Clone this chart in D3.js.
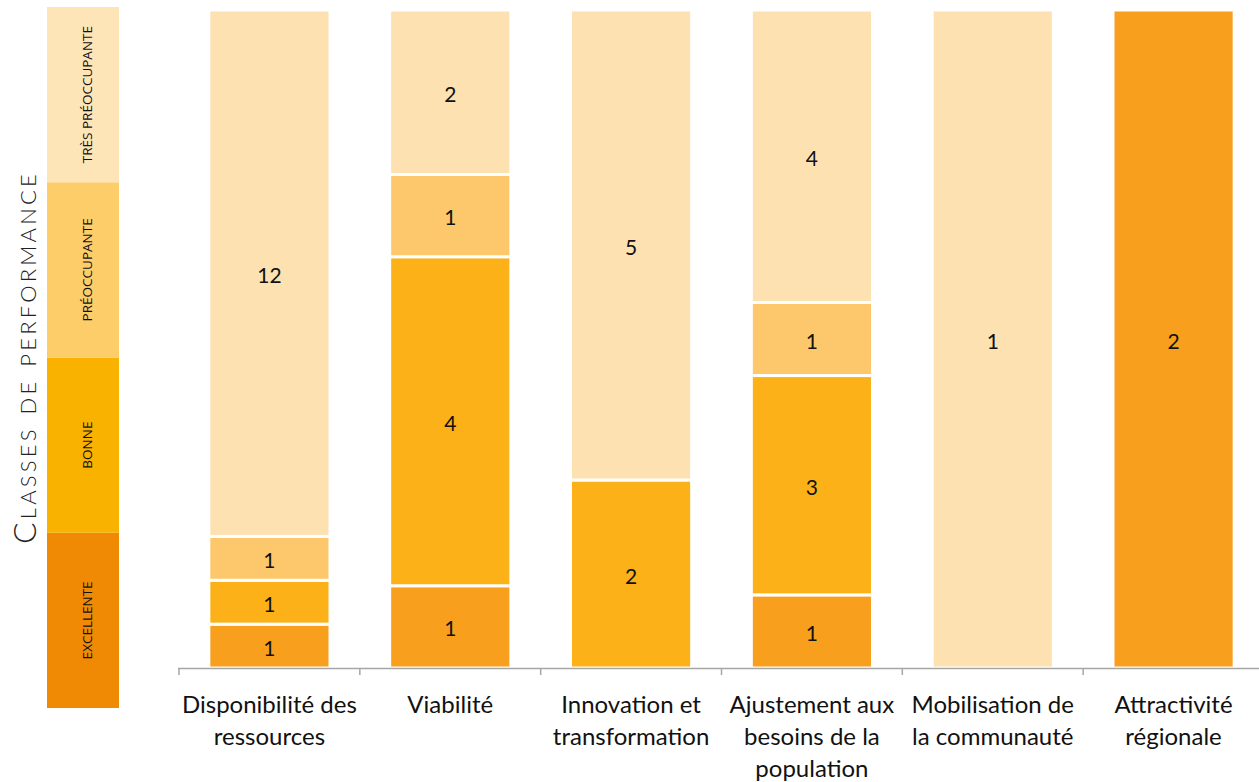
<!DOCTYPE html>
<html lang="fr">
<head>
<meta charset="utf-8">
<script src="https://cdn.jsdelivr.net/npm/d3@7"></script>
<style>
  html, body { margin: 0; padding: 0; background: #fff; }
  svg { display: block; }
</style>
</head>
<body>
<svg id="chart" width="1259" height="782"></svg>
<script>
// Categories (x axis) and their wrapped tick labels
const categories = [
  "Disponibilité des ressources",
  "Viabilité",
  "Innovation et transformation",
  "Ajustement aux besoins de la population",
  "Mobilisation de la communauté",
  "Attractivité régionale"
];
const tickLabels = [
  ["Disponibilité des", "ressources"],
  ["Viabilité"],
  ["Innovation et", "transformation"],
  ["Ajustement aux", "besoins de la", "population"],
  ["Mobilisation de", "la communauté"],
  ["Attractivité", "régionale"]
];

// Number of indicators in each performance class, per category
const excellente       = [1, 1, 0, 1, 0, 2];
const bonne            = [1, 4, 2, 3, 0, 0];
const preoccupante     = [1, 1, 0, 1, 0, 0];
const tresPreoccupante = [12, 2, 5, 4, 1, 0];

// Performance classes, bottom to top
const classKeys   = ["excellente", "bonne", "preoccupante", "tresPreoccupante"];
const classLabels = ["Excellente", "Bonne", "Préoccupante", "Très préoccupante"];
const barColors    = ["#F89F1E", "#FBB117", "#FDC86C", "#FDE1B1"];
const legendColors = ["#F08A04", "#F9B200", "#FDCD6A", "#FEE5B8"];

const rows = categories.map((c, i) => ({
  category: c,
  excellente: excellente[i],
  bonne: bonne[i],
  preoccupante: preoccupante[i],
  tresPreoccupante: tresPreoccupante[i]
}));

const svg = d3.select("#chart");
const plot = { left: 179, right: 1264, top: 10, bottom: 668 };
const font = "Lato, 'Open Sans', sans-serif";

const x = d3.scaleBand()
  .domain(categories)
  .range([plot.left, plot.right])
  .paddingInner(0.33)
  .paddingOuter(0.165);

const y = d3.scaleLinear().domain([0, 1]).range([plot.bottom, plot.top]);

const series = d3.stack().keys(classKeys).offset(d3.stackOffsetExpand)(rows);

// Stacked (100%) bars
const layers = svg.append("g").selectAll("g")
  .data(series)
  .join("g")
  .attr("fill", (d, i) => barColors[i]);

layers.selectAll("rect")
  .data(d => d.filter(s => s[1] - s[0] > 0))
  .join("rect")
  .attr("x", d => x(d.data.category))
  .attr("width", x.bandwidth())
  .attr("y", d => y(d[1]))
  .attr("height", d => y(d[0]) - y(d[1]))
  .attr("stroke", "#fff")
  .attr("stroke-width", 3);

// Value labels in each segment
series.forEach((s, si) => {
  svg.append("g").selectAll("text")
    .data(s.filter(d => d[1] - d[0] > 0))
    .join("text")
    .attr("x", d => x(d.data.category) + x.bandwidth() / 2)
    .attr("y", d => y((d[0] + d[1]) / 2) + 1)
    .attr("text-anchor", "middle")
    .attr("dominant-baseline", "central")
    .attr("font-family", font)
    .attr("font-size", 21)
    .attr("fill", "#111")
    .text(d => d.data[classKeys[si]]);
});

// X axis: baseline with ticks on the band boundaries
const axis = svg.append("g").attr("stroke", "#A6A6A6").attr("stroke-width", 1.5);
axis.append("line")
  .attr("x1", plot.left - 1).attr("x2", plot.right)
  .attr("y1", plot.bottom + 0.5).attr("y2", plot.bottom + 0.5);
const step = x.step();
const boundaries = d3.range(categories.length + 1)
  .map(i => x(categories[0]) - x.paddingOuter() * step + i * step);
axis.selectAll("line.tick")
  .data(boundaries)
  .join("line")
  .attr("class", "tick")
  .attr("x1", d => d).attr("x2", d => d)
  .attr("y1", plot.bottom).attr("y2", plot.bottom + 7);

// Category labels
const labelG = svg.append("g")
  .attr("font-family", font)
  .attr("font-size", 24)
  .attr("fill", "#111")
  .attr("text-anchor", "middle");
categories.forEach((c, i) => {
  const cx = x(c) + x.bandwidth() / 2;
  const t = labelG.append("text").attr("x", cx).attr("y", 713);
  tickLabels[i].forEach((line, j) => {
    t.append("tspan")
      .attr("x", cx)
      .attr("dy", j === 0 ? 0 : 32)
      .text(line);
  });
});

// Performance class legend (vertical colour bar, bottom to top)
const legend = { x: 47, width: 72, top: 7, bottom: 708 };
const ly = d3.scaleBand()
  .domain(classLabels.slice().reverse())
  .range([legend.top, legend.bottom]);

svg.append("g").selectAll("rect")
  .data(classLabels)
  .join("rect")
  .attr("x", legend.x)
  .attr("width", legend.width)
  .attr("y", d => ly(d))
  .attr("height", ly.bandwidth())
  .attr("fill", (d, i) => legendColors[i]);

svg.append("g").selectAll("text")
  .data(classLabels)
  .join("text")
  .attr("transform", d => `translate(${legend.x + legend.width / 2 + 4},${ly(d) + ly.bandwidth() / 2}) rotate(-90)`)
  .attr("text-anchor", "middle")
  .attr("dominant-baseline", "central")
  .attr("font-family", "'Open Sans', sans-serif")
  .attr("font-size", 13.5)
  .attr("fill", "#111")
  .text(d => d.toUpperCase());

// Legend title
svg.append("text")
  .attr("transform", `translate(36,${(legend.top + legend.bottom) / 2}) rotate(-90)`)
  .attr("text-anchor", "middle")
  .attr("font-family", "Lato, 'DejaVu Sans', sans-serif")
  .attr("font-weight", 300)
  .attr("font-size", 32)
  .attr("letter-spacing", 3.2)
  .attr("fill", "#222")
  .style("font-variant", "small-caps")
  .text("Classes de performance");
</script>
</body>
</html>
